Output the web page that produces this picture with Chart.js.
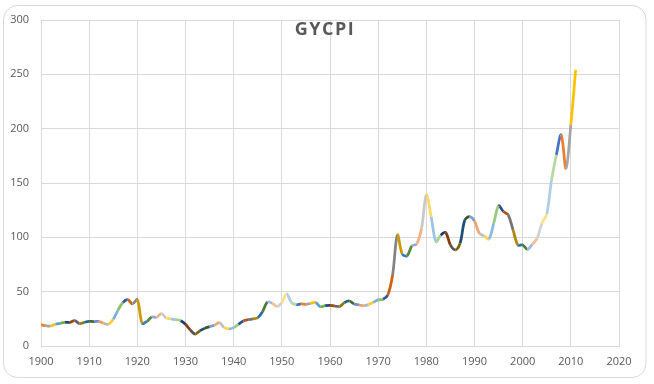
<!DOCTYPE html>
<html>
<head>
<meta charset="utf-8">
<script src="https://cdn.jsdelivr.net/npm/chart.js@4/dist/chart.umd.min.js"></script>
<style>
  html, body { margin: 0; padding: 0; background: #ffffff; }
  #wrap { width: 654px; height: 384px; }
</style>
</head>
<body>
<div id="wrap"><canvas id="c" width="654" height="384"></canvas></div>
<script>
// ---- data ----
const years = [
  1900,1901,1902,1903,1904,1905,1906,1907,1908,1909,
  1910,1911,1912,1913,1914,1915,1916,1917,1918,1919,
  1920,1921,1922,1923,1924,1925,1926,1927,1928,1929,
  1930,1931,1932,1933,1934,1935,1936,1937,1938,1939,
  1940,1941,1942,1943,1944,1945,1946,1947,1948,1949,
  1950,1951,1952,1953,1954,1955,1956,1957,1958,1959,
  1960,1961,1962,1963,1964,1965,1966,1967,1968,1969,
  1970,1971,1972,1973,1974,1975,1976,1977,1978,1979,
  1980,1981,1982,1983,1984,1985,1986,1987,1988,1989,
  1990,1991,1992,1993,1994,1995,1996,1997,1998,1999,
  2000,2001,2002,2003,2004,2005,2006,2007,2008,2009,
  2010,2011
];
const gycpi = [
  19.6,18.7,18.4,20.0,20.9,21.8,21.8,23.3,20.6,21.8,
  22.7,22.4,22.7,20.9,20.0,24.6,33.0,40.0,42.7,38.7,
  42.7,20.9,22.7,26.7,26.4,29.8,25.8,24.9,24.2,23.3,
  20.0,14.7,11.0,14.0,16.3,17.8,19.0,21.5,17.2,15.7,
  16.9,20.0,23.0,24.2,24.9,26.0,31.6,40.5,39.3,36.5,
  40.0,47.9,40.0,38.0,38.7,38.4,39.3,40.0,36.2,37.1,
  37.4,36.8,36.5,39.9,41.4,38.7,37.8,37.1,38.1,40.2,
  42.4,43.0,47.0,65.4,102.2,84.7,82.9,92.1,93.9,108.0,
  139.0,119.0,96.0,102.0,104.4,93.0,88.4,94.5,116.0,119.0,
  115.0,103.7,101.3,98.5,113.0,129.0,123.7,120.6,106.8,93.0,
  93.0,89.0,93.6,99.0,113.0,121.5,152.9,175.9,194.3,163.6,
  203.5,254.0
];
const xTicks = [1900,1910,1920,1930,1940,1950,1960,1970,1980,1990,2000,2010,2020];
const yTicks = [0,50,100,150,200,250,300];
const chartTitle = "GYCPI";

// ---- style: Office "vary colors by point" palette ----
const accents = ["#4472C4","#ED7D31","#A5A5A5","#FFC000","#5B9BD5","#70AD47"];
const tiers = [[1,0],[0.6,0],[0.8,0.2],[0.8,0],[0.6,0.4],[0.5,0],[0.7,0.3],[0.7,0],[0.5,0.5]];

function hexToHsl(hex){
  const r=parseInt(hex.slice(1,3),16)/255,g=parseInt(hex.slice(3,5),16)/255,b=parseInt(hex.slice(5,7),16)/255;
  const mx=Math.max(r,g,b),mn=Math.min(r,g,b);let h=0,s=0;const l=(mx+mn)/2;
  if(mx!==mn){const d=mx-mn;s=l>0.5?d/(2-mx-mn):d/(mx+mn);
    if(mx===r)h=(g-b)/d+(g<b?6:0);else if(mx===g)h=(b-r)/d+2;else h=(r-g)/d+4;h/=6;}
  return [h,s,l];
}
function hslToHex(h,s,l){
  function f(p,q,t){if(t<0)t+=1;if(t>1)t-=1;if(t<1/6)return p+(q-p)*6*t;if(t<1/2)return q;if(t<2/3)return p+(q-p)*(2/3-t)*6;return p;}
  let r,g,b;if(s===0){r=g=b=l;}else{const q=l<0.5?l*(1+s):l+s-l*s;const p=2*l-q;r=f(p,q,h+1/3);g=f(p,q,h);b=f(p,q,h-1/3);}
  const t=v=>Math.round(v*255).toString(16).padStart(2,"0");return "#"+t(r)+t(g)+t(b);
}
function pointColor(i){
  const base=accents[i%6];const tier=tiers[Math.floor(i/6)%tiers.length];
  const hsl=hexToHsl(base);let l=hsl[2]*tier[0]+tier[1];l=Math.max(0,Math.min(1,l));
  return hslToHex(hsl[0],hsl[1],l);
}

const points = years.map((y,i)=>({x:y,y:gycpi[i]}));

const framePlugin = {
  id:"frame",
  beforeDraw(chart){
    const ctx=chart.ctx;ctx.save();
    ctx.fillStyle="#ffffff";ctx.fillRect(0,0,chart.width,chart.height);
    ctx.beginPath();
    ctx.roundRect(3.5,5.5,642.5,372,14);
    ctx.strokeStyle="#D9D9D9";ctx.lineWidth=1;ctx.stroke();
    ctx.restore();
  },
  afterDraw(chart){
    const ctx=chart.ctx;ctx.save();
    ctx.font="bold 18px 'Open Sans', sans-serif";
    ctx.fillStyle="#595959";
    try{ctx.letterSpacing="1.5px";}catch(e){}
    ctx.textAlign="center";ctx.textBaseline="middle";
    ctx.fillText(chartTitle,325,30);
    ctx.restore();
  }
};

new Chart(document.getElementById("c"),{
  type:"line",
  data:{datasets:[{
    label:chartTitle,
    data:points,
    borderWidth:2.75,
    pointRadius:0,
    tension:0.35,
    fill:false,
    borderColor:pointColor(1),
    segment:{borderColor:ctx=>pointColor(ctx.p1DataIndex)}
  }]},
  options:{
    responsive:false,
    animation:false,
    devicePixelRatio:1,
    layout:{padding:{left:0,top:20,right:35,bottom:0}},
    plugins:{legend:{display:false},tooltip:{enabled:false},title:{display:false}},
    scales:{
      x:{
        type:"linear",min:xTicks[0],max:xTicks[xTicks.length-1],
        afterBuildTicks(scale){scale.ticks=xTicks.map(v=>({value:v}));},
        afterFit(scale){scale.height=38;},
        grid:{color:"#D9D9D9",drawTicks:false,lineWidth:1},
        border:{color:"#D9D9D9"},
        ticks:{color:"#595959",padding:9,maxRotation:0,autoSkip:false,
          font:{family:"'Open Sans', sans-serif",size:11},
          callback:v=>String(v)}
      },
      y:{
        min:yTicks[0],max:yTicks[yTicks.length-1],
        afterBuildTicks(scale){scale.ticks=yTicks.map(v=>({value:v}));},
        afterFit(scale){scale.width=41;},
        grid:{color:"#D9D9D9",drawTicks:false,lineWidth:1},
        border:{color:"#D9D9D9"},
        ticks:{color:"#595959",padding:12,
          font:{family:"'Open Sans', sans-serif",size:11},
          callback:v=>String(v)}
      }
    }
  },
  plugins:[framePlugin]
});
</script>
</body>
</html>
